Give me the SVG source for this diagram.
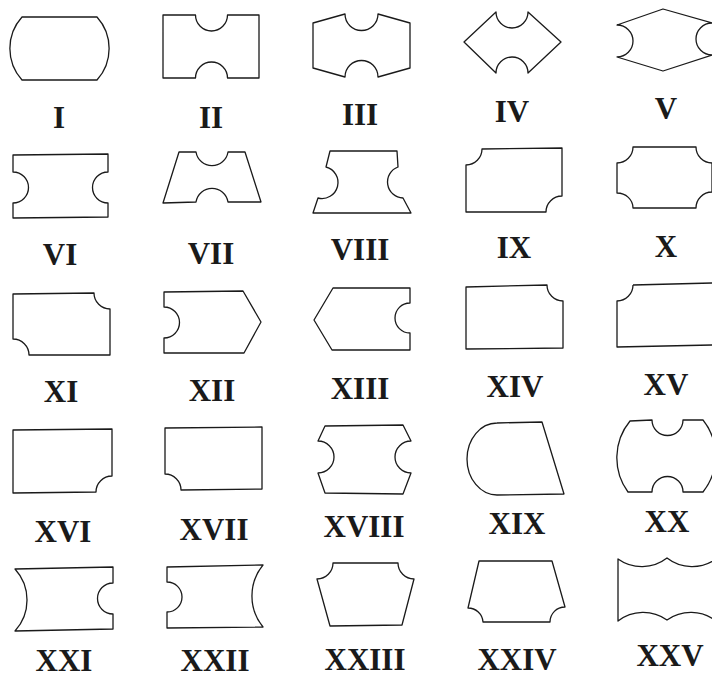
<svg xmlns="http://www.w3.org/2000/svg" width="712" height="678" viewBox="0 0 712 678">
<style>
.s{fill:none;stroke:#1a1a1a;stroke-width:1.3;stroke-linejoin:round}
.t{font-family:"Liberation Serif","Times New Roman",serif;font-weight:bold;font-size:31px;fill:#1a1a1a;text-anchor:middle}
</style>
<rect width="712" height="678" fill="#fff"/>
<g id="n1"><path class="s" d="M22,17 L97,17 A47,47 0 0 1 97,80 L22,80 A47,47 0 0 1 22,17 Z"/><text class="t" x="59" y="128">I</text></g>
<g id="n2"><path class="s" d="M163,15 L195.5,15 A16,16 0 0 0 227.5,15 L259,15 L259,78 L227.5,78 A16,16 0 0 0 195.5,78 L163,78 Z"/><text class="t" x="211" y="128">II</text></g>
<g id="n3"><path class="s" d="M313,23 L345,14 A16.5,16.5 0 0 0 378,14 L410,23 L410,68 L378,77 A16.5,16.5 0 0 0 345,77 L313,68 Z"/><text class="t" x="360" y="125">III</text></g>
<g id="n4"><path class="s" d="M464,42 L496,12 A16,16 0 0 0 528,12 L561,42 L528,73 A16,16 0 0 0 496,73 Z"/><text class="t" x="512" y="122">IV</text></g>
<g id="n5"><path class="s" d="M617,25 L663,9 L712,23 A16,16 0 0 0 712,55 L663,71 L617,57 A16,16 0 0 0 617,25 Z"/><text class="t" x="666" y="119">V</text></g>
<g id="n6"><path class="s" d="M13,155 L108,154 L108,172 A15.5,15.5 0 0 0 108,203 L108,217 L13,218 L13,203 A15.5,15.5 0 0 0 13,172 Z"/><text class="t" x="60" y="265">VI</text></g>
<g id="n7"><path class="s" d="M179,152 L196,152 A16.2,16.2 0 0 0 228,152 L245,152 L261,202 L228,202 A16.2,16.2 0 0 0 196,202 L163,203 Z"/><text class="t" x="211" y="264">VII</text></g>
<g id="n8"><path class="s" d="M330,151 L397,151 L398,167 A16,16 0 0 0 403,198 L411,213 L313,213 L318,198 A16,16 0 0 0 326,167 Z"/><text class="t" x="360" y="260">VIII</text></g>
<g id="n9"><path class="s" d="M482,149 L562,148 L562,196 A16,16 0 0 0 546,212 L466,212 L466,165 A16,16 0 0 0 482,149 Z"/><text class="t" x="514" y="258">IX</text></g>
<g id="n10"><path class="s" d="M633,147 L696,147 A16,16 0 0 0 712,163 L712,192 A16,16 0 0 0 696,208 L633,208 A16,15 0 0 0 617,193 L617,163 A16,16 0 0 0 633,147 Z"/><text class="t" x="666" y="257">X</text></g>
<g id="n11"><path class="s" d="M13,294 L94,293 A16,16 0 0 0 110,309 L110,355 L29,355 A16,16 0 0 0 13,339 Z"/><text class="t" x="61" y="402">XI</text></g>
<g id="n12"><path class="s" d="M164,292 L243,291 L261,322 L244,353 L164,353 L164,338 A15.5,15.5 0 0 0 164,307 Z"/><text class="t" x="212" y="401">XII</text></g>
<g id="n13"><path class="s" d="M333,288 L410,288 L410,303 A15,15 0 0 0 410,333 L410,350 L332,350 L314,320 Z"/><text class="t" x="360" y="399">XIII</text></g>
<g id="n14"><path class="s" d="M466,287 L547,285 A16,16 0 0 0 563,301 L563,348 L466,349 Z"/><text class="t" x="515" y="397">XIV</text></g>
<g id="n15"><path class="s" d="M633,285 L713,283 M713,345 L617,347 L617,301 A16,16 0 0 0 633,285"/><text class="t" x="666" y="395">XV</text></g>
<g id="n16"><path class="s" d="M13,430 L112,429 L112,476 A16,16 0 0 0 96,492 L13,493 Z"/><text class="t" x="63" y="542">XVI</text></g>
<g id="n17"><path class="s" d="M165,428 L262,427 L262,489 L181,490 A16,16 0 0 0 165,474 Z"/><text class="t" x="214" y="540">XVII</text></g>
<g id="n18"><path class="s" d="M325,426 L403,425 L411,441 A16,16 0 0 0 411,473 L403,494 L325,493 L318,473 A16,16 0 0 0 318,441 Z"/><text class="t" x="364" y="537">XVIII</text></g>
<g id="n19"><path class="s" d="M497,423 L542,422 L564,494 L497,495 A30,36 0 0 1 497,423 Z"/><text class="t" x="517" y="534">XIX</text></g>
<g id="n20"><path class="s" d="M630,421 L652,420 A15.5,15.5 0 0 0 683,420 L703,420 A58,58 0 0 1 703,492 L683,492 A15.5,15.5 0 0 0 652,492 L628,492 A58,58 0 0 1 630,421 Z"/><text class="t" x="667" y="532">XX</text></g>
<g id="n21"><path class="s" d="M15,569 L113,567 L113,583 A15.5,15.5 0 0 0 113,614 L113,629 L15,631 A46,46 0 0 0 15,569 Z"/><text class="t" x="64" y="671">XXI</text></g>
<g id="n22"><path class="s" d="M167,567 L263,565 A49,49 0 0 0 263,627 L167,628 L167,612 A15,15 0 0 0 167,582 Z"/><text class="t" x="215" y="671">XXII</text></g>
<g id="n23"><path class="s" d="M333,563 L398,563 A16,16 0 0 0 414,579 L402,625 L330,626 L317,579 A16,16 0 0 0 333,563 Z"/><text class="t" x="365" y="670">XXIII</text></g>
<g id="n24"><path class="s" d="M479,561 L552,561 L565,607 A15,15 0 0 0 550,622 L483,622 A15,15 0 0 0 468,608 Z"/><text class="t" x="517" y="670">XXIV</text></g>
<g id="n25"><path class="s" d="M716,621 A41,41 0 0 0 667,620 A41,41 0 0 0 618,621 L618,559 A41,41 0 0 0 667,558 A41,41 0 0 0 716,559"/><text class="t" x="670" y="666">XXV</text></g>
<g id="connectors"></g>
</svg>
